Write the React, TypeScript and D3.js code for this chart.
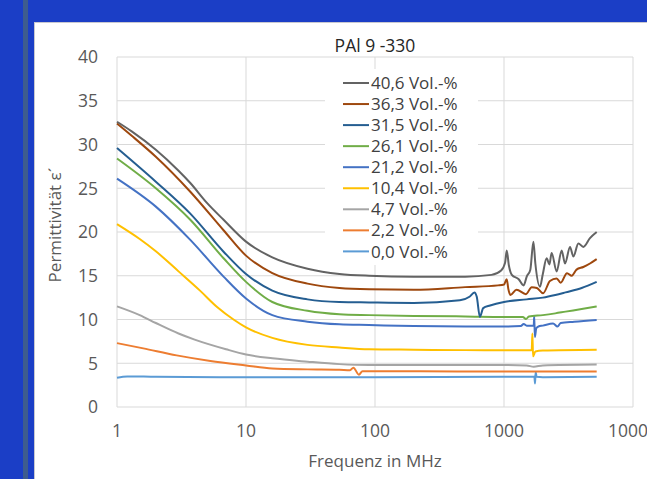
import React from 'react';
import * as d3 from 'd3';

// ---------- data ----------
const xTickValues = [1, 10, 100, 1000, 10000];
const xTickLabels = ['1', '10', '100', '1000', '10000'];
const yTickValues = [0, 5, 10, 15, 20, 25, 30, 35, 40];

const seriesNames = ['40,6 Vol.-%', '36,3 Vol.-%', '31,5 Vol.-%', '26,1 Vol.-%', '21,2 Vol.-%', '10,4 Vol.-%', '4,7 Vol.-%', '2,2 Vol.-%', '0,0 Vol.-%'];
const seriesColors = ['#636363', '#9E480E', '#255E91', '#70AD47', '#4472C4', '#FFC000', '#A5A5A5', '#ED7D31', '#5B9BD5'];

const f406 = [1, 1.3, 2, 3, 3.7, 5, 6.7, 10, 16, 30, 53, 90, 200, 500, 800, 950, 1020, 1050, 1090, 1150, 1300, 1420, 1500, 1600, 1690, 1750, 1900, 2000, 2140, 2250, 2340, 2560, 2800, 2970, 3250, 3450, 3770, 4120, 4640, 5230];
const v406 = [32.6, 31.5, 29.4, 27.0, 25.6, 23.3, 21.4, 18.9, 17.1, 15.8, 15.2, 15.0, 14.9, 14.9, 15.1, 15.6, 16.5, 17.9, 16.2, 15.1, 14.6, 13.9, 14.9, 15.7, 18.9, 16.4, 13.75, 15.2, 17.0, 16.3, 17.6, 15.5, 17.9, 16.4, 18.3, 17.2, 18.7, 18.3, 19.3, 20.0];

const f363 = [1, 1.3, 2, 3.7, 6.7, 10, 16, 30, 53, 90, 200, 500, 900, 1000, 1050, 1080, 1120, 1250, 1480, 1640, 1800, 2010, 2270, 2560, 2750, 3080, 3350, 3650, 4120, 4640, 5230];
const v363 = [32.4, 31.0, 28.6, 24.6, 20.2, 17.3, 15.3, 14.1, 13.6, 13.45, 13.4, 13.7, 13.9, 14.0, 14.6, 13.5, 12.8, 13.4, 12.9, 13.7, 13.6, 13.0, 14.4, 14.7, 14.2, 15.3, 15.0, 15.7, 16.0, 16.4, 16.9];

const f315 = [1, 2, 3.7, 6.7, 10, 16, 30, 53, 90, 200, 455, 540, 590, 615, 650, 690, 780, 1000, 1500, 2000, 2500, 3000, 4000, 5230];
const v315 = [29.6, 25.75, 22.1, 17.75, 15.2, 13.3, 12.3, 12.0, 11.95, 11.9, 12.2, 12.6, 13.1, 12.6, 10.3, 11.3, 11.6, 12.0, 12.3, 12.5, 12.8, 13.1, 13.6, 14.3];

const f261 = [1, 2, 3.7, 6.7, 10, 16, 30, 53, 90, 200, 500, 1000, 1400, 1480, 1560, 2000, 2500, 3000, 4000, 5230];
const v261 = [28.4, 25.0, 21.4, 17.0, 14.3, 12.0, 11.0, 10.6, 10.5, 10.4, 10.35, 10.3, 10.3, 10.05, 10.35, 10.5, 10.7, 10.9, 11.2, 11.5];

const f212 = [1, 2, 3.7, 6.7, 10, 16, 30, 53, 90, 200, 500, 1000, 1350, 1420, 1500, 1700, 1715, 1735, 1780, 1850, 2000, 2400, 2600, 2750, 3500, 5230];
const v212 = [26.1, 22.9, 19.1, 14.9, 12.4, 10.5, 9.75, 9.45, 9.37, 9.25, 9.2, 9.2, 9.25, 9.5, 9.3, 9.3, 10.4, 8.0, 9.0, 9.2, 9.3, 9.55, 9.2, 9.6, 9.75, 9.95];

const f104 = [1, 1.5, 2, 3, 4.4, 6, 8, 10, 16, 30, 53, 90, 200, 500, 1000, 1640, 1660, 1680, 1750, 2000, 5230];
const v104 = [20.9, 19.2, 17.8, 15.5, 13.3, 11.4, 10.0, 9.1, 7.9, 7.1, 6.8, 6.6, 6.55, 6.5, 6.5, 6.5, 8.4, 5.8, 6.35, 6.45, 6.55];

const f47 = [1, 1.5, 2, 3, 4, 7, 10, 16, 30, 53, 90, 500, 1000, 1500, 1700, 2000, 5230];
const v47 = [11.5, 10.5, 9.6, 8.4, 7.7, 6.6, 6.0, 5.56, 5.18, 4.9, 4.8, 4.8, 4.8, 4.75, 4.6, 4.75, 4.85];

const f22 = [1, 1.6, 2.9, 5.3, 10, 16, 30, 53, 64, 68, 75, 80, 100, 500, 5230];
const v22 = [7.3, 6.7, 5.9, 5.26, 4.75, 4.4, 4.3, 4.25, 4.2, 4.5, 3.7, 4.1, 4.1, 4.05, 4.05];

const f00 = [1, 1.2, 2, 10, 100, 1000, 1720, 1740, 1760, 1790, 2000, 5230];
const v00 = [3.35, 3.5, 3.45, 3.4, 3.4, 3.45, 3.45, 2.7, 4.0, 3.45, 3.4, 3.45];

const seriesFreqs = [f406, f363, f315, f261, f212, f104, f47, f22, f00];
const seriesValues = [v406, v363, v315, v261, v212, v104, v47, v22, v00];

// ---------- layout ----------
const W = 647;
const H = 479;
const FONT = '"Open Sans", "Noto Sans", sans-serif';

const x = d3.scaleLog().domain([1, 10000]).range([117, 633]);
const y = d3.scaleLinear().domain([0, 40]).range([407, 57]);

type Pt = { f: number; v: number };

export default function App() {
  const line = d3
    .line<Pt>()
    .x((d) => x(d.f))
    .y((d) => y(d.v))
    .curve(d3.curveMonotoneX);

  const series = seriesNames.map((name, i) => ({
    name,
    color: seriesColors[i],
    pts: seriesFreqs[i].map((f, j) => ({ f, v: seriesValues[i][j] })),
  }));

  const legX = 343;
  const legY0 = 83;
  const legStep = 21.05;

  return (
    <svg
      width={W}
      height={H}
      style={{ position: 'fixed', left: 0, top: 0, display: 'block' }}
      fontFamily={FONT}
    >
      <rect x={0} y={0} width={W} height={H} fill="#1B3EC6" />
      <rect x={23} y={0} width={5} height={H} fill="#3E5C8E" />
      <rect x={34} y={22} width={W - 34} height={H - 22} fill="#FFFFFF" />
      <line x1={34} y1={22.5} x2={W} y2={22.5} stroke="#C8C8D0" strokeWidth={1} />
      <line x1={34.5} y1={22} x2={34.5} y2={H} stroke="#C8C8D0" strokeWidth={1} />

      {/* grid */}
      {yTickValues.map((t) => (
        <line key={'gy' + t} x1={x(1)} x2={x(10000)} y1={y(t)} y2={y(t)} stroke="#D9D9D9" strokeWidth={1} />
      ))}
      {xTickValues.map((t) => (
        <line key={'gx' + t} x1={x(t)} x2={x(t)} y1={y(0)} y2={y(40)} stroke="#D9D9D9" strokeWidth={1} />
      ))}

      {/* legend background */}
      <rect x={325} y={69} width={153} height={196} fill="#FFFFFF" />

      {/* series */}
      {series
        .slice()
        .reverse()
        .map((s) => (
          <path key={s.name} d={line(s.pts) || ''} fill="none" stroke={s.color} strokeWidth={2} strokeLinejoin="round" />
        ))}

      {/* y tick labels */}
      {yTickValues.map((t) => (
        <text key={'ty' + t} x={98} y={y(t)} dy="0.36em" textAnchor="end" fontSize={17.5} fill="#595959">
          {t}
        </text>
      ))}
      {/* x tick labels */}
      {xTickValues.map((t, i) => (
        <text key={'tx' + t} x={x(t)} y={437} textAnchor="middle" fontSize={17.5} fill="#595959">
          {xTickLabels[i]}
        </text>
      ))}

      {/* title */}
      <text x={375} y={52} textAnchor="middle" fontSize={17.5} fill="#262626">
        PAl 9 -330
      </text>

      {/* axis titles */}
      <text x={375} y={467} textAnchor="middle" fontSize={17} fill="#595959">
        Frequenz in MHz
      </text>
      <text transform="translate(61,225) rotate(-90)" textAnchor="middle" fontSize={17} fill="#595959">
        Permittivität  ε´
      </text>

      {/* legend */}
      {series.map((s, i) => (
        <g key={'lg' + s.name}>
          <line x1={legX} x2={legX + 26} y1={legY0 + i * legStep} y2={legY0 + i * legStep} stroke={s.color} strokeWidth={2} />
          <text x={legX + 28} y={legY0 + i * legStep} dy="0.36em" fontSize={17} fill="#404040">
            {s.name}
          </text>
        </g>
      ))}
    </svg>
  );
}
